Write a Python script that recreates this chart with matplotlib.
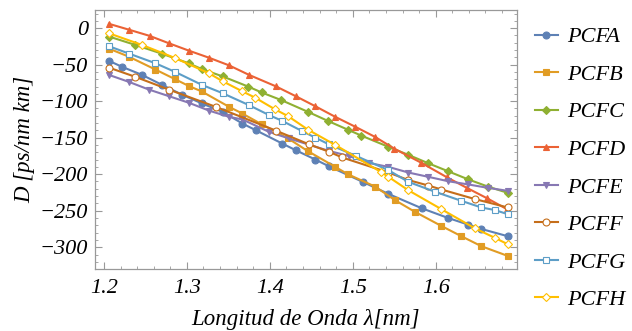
import matplotlib
matplotlib.use("Agg")
import matplotlib.pyplot as plt
from matplotlib.ticker import MultipleLocator

# series values
labels = ["PCFA", "PCFB", "PCFC", "PCFD", "PCFE", "PCFF", "PCFG", "PCFH"]

xA = [1.206, 1.222, 1.246, 1.270, 1.294, 1.318, 1.343, 1.367, 1.383, 1.415, 1.431, 1.455, 1.471, 1.512, 1.543, 1.583, 1.615, 1.639, 1.655, 1.687]
yA = [-44.7, -53, -64, -77.6, -91, -103, -114.6, -130.6, -139.7, -158, -167, -180, -189, -210.5, -227, -246.6, -260, -269, -275, -285]

xB = [1.206, 1.230, 1.262, 1.286, 1.302, 1.318, 1.351, 1.367, 1.390, 1.422, 1.446, 1.479, 1.494, 1.527, 1.551, 1.575, 1.607, 1.631, 1.655, 1.687]
yB = [-28, -39, -56.6, -70, -79, -86.7, -107.8, -117, -131.5, -151, -168.5, -190, -200, -217, -235.6, -251.6, -271, -285, -298.6, -312]

xC = [1.206, 1.238, 1.270, 1.302, 1.318, 1.343, 1.374, 1.390, 1.414, 1.446, 1.470, 1.494, 1.510, 1.543, 1.567, 1.591, 1.615, 1.639, 1.663, 1.687]
yC = [-11.4, -23, -35, -48, -56, -66, -80, -88, -98.6, -114.6, -127, -139, -147, -162.5, -173.5, -185, -196, -207, -217, -225.6]

xD = [1.206, 1.230, 1.255, 1.278, 1.302, 1.327, 1.351, 1.375, 1.407, 1.431, 1.455, 1.479, 1.503, 1.527, 1.550, 1.582, 1.614, 1.638, 1.662, 1.686]
yD = [6, -2, -10.5, -20.5, -30.6, -40.6, -51, -64, -79.5, -93, -107, -121.5, -135, -149, -165, -184, -204.5, -219, -233, -248]

xE = [1.206, 1.230, 1.254, 1.278, 1.302, 1.327, 1.351, 1.367, 1.399, 1.423, 1.471, 1.495, 1.519, 1.543, 1.567, 1.591, 1.615, 1.639, 1.663, 1.687]
yE = [-64, -73.5, -84, -93, -102, -113, -121.5, -125, -142, -151, -168, -175, -184.5, -190, -197.7, -203.6, -209.6, -214, -218.7, -222.8]

xF = [1.206, 1.238, 1.278, 1.335, 1.408, 1.447, 1.471, 1.487, 1.543, 1.567, 1.591, 1.607, 1.647, 1.687]
yF = [-54, -66.7, -84, -107.8, -140.6, -159, -169, -177, -197.7, -208, -215.5, -221, -234, -245.6]

xG = [1.206, 1.230, 1.262, 1.286, 1.318, 1.343, 1.375, 1.399, 1.415, 1.439, 1.455, 1.471, 1.504, 1.543, 1.567, 1.599, 1.631, 1.655, 1.671, 1.687]
yG = [-24.7, -34.7, -48, -60, -77.6, -89, -105.5, -119, -127, -141, -150, -159, -175, -194.5, -210.5, -224, -236.5, -245.6, -249, -254.8]

xH = [1.206, 1.246, 1.286, 1.327, 1.343, 1.366, 1.382, 1.406, 1.422, 1.446, 1.479, 1.534, 1.543, 1.567, 1.607, 1.647, 1.671, 1.687]
yH = [-7, -23, -41, -62, -72.6, -86, -95, -111, -120.5, -139, -160, -197, -203.6, -222, -248, -274, -287, -296]

xs = [xA, xB, xC, xD, xE, xF, xG, xH]
ys = [yA, yB, yC, yD, yE, yF, yG, yH]

colors = ["#5E81B5", "#E19C24", "#8FB032", "#EB6235", "#8778B3", "#C56E1A", "#5D9EC7", "#FFBF00"]
markers = ["o", "s", "D", "^", "v", "o", "s", "D"]
msizes = [5, 4, 4.5, 5, 5, 5, 4.2, 4.2]
filled = [True, True, True, True, True, False, False, False]

serif = "Liberation Serif"

fig = plt.figure(figsize=(6.32, 3.31), dpi=100)
ax = fig.add_axes([0.150, 0.187, 0.668, 0.783])

for i in range(len(labels)):
    face = colors[i] if filled[i] else "white"
    ax.plot(xs[i], ys[i], color=colors[i], lw=1.5, marker=markers[i],
            ms=msizes[i], mfc=face, mec=colors[i], mew=0.8, label=labels[i])

ax.set_xlim(1.189, 1.698)
ax.set_ylim(-330, 25)
ax.xaxis.set_major_locator(MultipleLocator(0.1))
ax.xaxis.set_minor_locator(MultipleLocator(0.02))
ax.yaxis.set_major_locator(MultipleLocator(50))
ax.yaxis.set_minor_locator(MultipleLocator(10))
ax.tick_params(which="both", direction="in", top=True, right=True, color="#999999")
ax.tick_params(which="major", length=5, width=0.8, labelsize=16, pad=5)
ax.tick_params(axis="x", which="major", pad=7)
ax.tick_params(which="minor", length=2.5, width=0.6)
for s in ax.spines.values():
    s.set_color("#999999")
    s.set_linewidth(0.9)

ax.set_xticks(ax.get_xticks())
ax.set_xticklabels([f"{v:.1f}" for v in ax.get_xticks()])
ax.set_yticks(ax.get_yticks())
ax.set_yticklabels([f"{int(v)}".replace("-", "\u2212") for v in ax.get_yticks()])
ax.set_xlim(1.189, 1.698)
ax.set_ylim(-330, 25)
for lab in ax.get_xticklabels() + ax.get_yticklabels():
    lab.set_fontfamily(serif)
    lab.set_fontstyle("italic")

ax.set_xlabel("Longitud de Onda \u03bb[nm]", fontsize=16.5, family=serif, style="italic", labelpad=8)
ax.set_ylabel("D [ps/nm km]", fontsize=16.5, family=serif, style="italic", labelpad=3)

leg = ax.legend(loc="upper left", bbox_to_anchor=(0.996, 1.012), frameon=False,
                prop={"family": serif, "style": "italic", "size": 16},
                handlelength=1.0, labelspacing=0.765, handletextpad=0.45)

fig.savefig("out.png", dpi=100)
